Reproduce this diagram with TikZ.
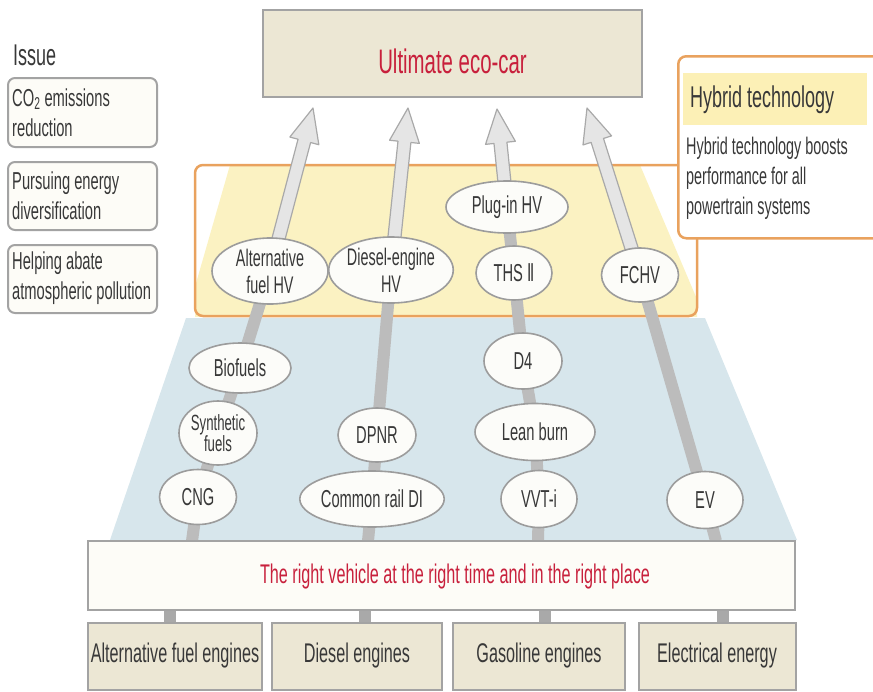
\documentclass[tikz,border=0pt]{standalone}
\usepackage{fontspec}
\setmainfont{Liberation Sans}[FakeStretch=0.6]
\newfontfamily\dvfont{DejaVu Sans}[FakeStretch=0.6]
\usetikzlibrary{shapes.geometric,calc}
\definecolor{blueback}{HTML}{D7E6EC}
\definecolor{yelback}{HTML}{FBF2C2}
\definecolor{orng}{HTML}{E9A25E}
\definecolor{barc}{HTML}{BCBCBC}
\definecolor{arrfill}{HTML}{E5E5E5}
\definecolor{arrline}{HTML}{A9A9A9}
\definecolor{ovalfill}{HTML}{FCFCF9}
\definecolor{ovalline}{HTML}{9C9C9C}
\definecolor{redtxt}{HTML}{C8203C}
\definecolor{txt}{HTML}{383838}
\definecolor{beige}{HTML}{ECE7D4}
\definecolor{boxline}{HTML}{A3A3A3}
\definecolor{whitebox}{HTML}{FDFCF7}
\definecolor{hyband}{HTML}{FCF0B6}
\pgfdeclarelayer{bg}
\pgfdeclarelayer{mid}
\pgfsetlayers{bg,mid,main}
\newcommand\fatarrow[2]{%
  \coordinate (hb) at ($(#2)!34pt!(#1.center)$);
  \filldraw[fill=arrfill, draw=arrline, line width=1.2pt, line join=round]
    ($(#1.center)!6.5pt!90:(#2)$) -- ($(hb)!6.5pt!90:(#2)$) -- ($(hb)!15pt!90:(#2)$) -- (#2)
    -- ($(hb)!15pt!-90:(#2)$) -- ($(hb)!6.5pt!-90:(#2)$) -- ($(#1.center)!6.5pt!-90:(#2)$) -- cycle;}
\tikzset{
  oval/.style={ellipse, draw=ovalline, fill=ovalfill, line width=1.6pt, inner sep=0pt,
    text=txt, font=\fontsize{24.5}{22}\selectfont, align=center},
  bar/.style={draw=barc, line width=12pt},
  beigebox/.style={rectangle, draw=boxline, fill=beige, line width=2pt, inner sep=0pt},
  issuebox/.style={rectangle, rounded corners=7pt, draw=boxline, fill=whitebox, line width=2pt,
    minimum width=149pt},
  issuetext/.style={anchor=west, align=left, inner sep=0pt, text=txt, font=\fontsize{24.5}{30}\selectfont},
  redlabel/.style={text=redtxt, inner sep=0pt},
  greylabel/.style={text=txt, inner sep=0pt}
}
\begin{document}
\begin{tikzpicture}[x=1pt,y=-1pt]
\useasboundingbox (0,0) rectangle (873,691);
% issues
\node[greylabel, anchor=west, font=\fontsize{30}{30}\selectfont] (issue) at (13,55) {Issue};
\node[issuebox, minimum height=69pt] (i1) at (82.5,112.5) {};
\node[issuebox, minimum height=68pt] (i2) at (82.5,196) {};
\node[issuebox, minimum height=68pt] (i3) at (82.5,279) {};
\node[issuetext] (i1t) at (12,112.5) {CO\textsubscript{2} emissions\\reduction};
\node[issuetext] (i2t) at (12,196) {Pursuing energy\\diversification};
\node[issuetext] (i3t) at (12,278) {Helping abate\\atmospheric pollution};
% top box
\node[beigebox, minimum width=379pt, minimum height=87pt] (eco) at (452.5,53.5) {};
\node[redlabel, font=\fontsize{34}{34}\selectfont] (ecot) at (452.5,61) {Ultimate eco-car};
% hybrid box
\node[rectangle, rounded corners=8pt, draw=orng, fill=white, line width=2.5pt, minimum width=213pt,
  minimum height=182pt, anchor=north west] (hy) at (677,55) {};
\node[rectangle, fill=hyband, minimum width=184pt, minimum height=52pt, anchor=north west] (hyb) at (683,73) {};
\node[greylabel, anchor=west, font=\fontsize{30}{30}\selectfont] (hyt) at (690,100) {Hybrid technology};
\node[greylabel, anchor=west, align=left, font=\fontsize{24}{30}\selectfont] (hyd) at (686,178)
  {Hybrid technology boosts\\performance for all\\powertrain systems};
% main box
\node[rectangle, draw=boxline, fill=whitebox, line width=2pt, minimum width=707pt, minimum height=69pt] (main) at (441.5,575.5) {};
\node[redlabel, font=\fontsize{27}{27}\selectfont] (maint) at (455,577) {The right vehicle at the right time and in the right place};
% bottom boxes
\node[beigebox, minimum width=174pt, minimum height=67pt, text=txt, font=\fontsize{27}{27}\selectfont] (b1) at (175,656) {Alternative fuel engines};
\node[beigebox, minimum width=170pt, minimum height=67pt, text=txt, font=\fontsize{27}{27}\selectfont] (b2) at (357,656) {Diesel engines};
\node[beigebox, minimum width=172pt, minimum height=67pt, text=txt, font=\fontsize{27}{27}\selectfont] (b3) at (539,656) {Gasoline engines};
\node[beigebox, minimum width=157pt, minimum height=67pt, text=txt, font=\fontsize{27}{27}\selectfont] (b4) at (717,656) {Electrical energy};
% ellipses
\node[oval, minimum width=77pt, minimum height=55pt] (cng) at (198,497) {CNG};
\node[oval, minimum width=78pt, minimum height=64pt, font=\fontsize{22}{21}\selectfont] (syn) at (218,433) {Synthetic\\fuels};
\node[oval, minimum width=102pt, minimum height=50pt] (bio) at (240,368) {Biofuels};
\node[oval, minimum width=116pt, minimum height=66pt, font=\fontsize{24}{27}\selectfont] (althv) at (270,271) {Alternative\\fuel HV};
\node[oval, minimum width=135pt, minimum height=56pt] (cr) at (372,499) {Common rail DI};
\node[oval, minimum width=78pt, minimum height=54pt] (dpnr) at (377,435) {DPNR};
\node[oval, minimum width=112pt, minimum height=66pt, font=\fontsize{24}{27}\selectfont] (dhv) at (391,270) {Diesel-engine\\HV};
\node[oval, minimum width=76pt, minimum height=57pt] (vvt) at (539,499) {VVT-i};
\node[oval, minimum width=120pt, minimum height=57pt] (lean) at (535,432) {Lean burn};
\node[oval, minimum width=78pt, minimum height=56pt] (d4) at (523,361) {D4};
\node[oval, minimum width=76pt, minimum height=54pt] (ths) at (514,273) {THS {\dvfont Ⅱ}};
\node[oval, minimum width=122pt, minimum height=52pt] (plug) at (507,207) {Plug-in HV};
\node[oval, minimum width=76pt, minimum height=57pt] (ev) at (705,500) {EV};
\node[oval, minimum width=77pt, minimum height=54pt] (fchv) at (640,275) {FCHV};
% free ends
\coordinate (m1) at (192,541);
\coordinate (m2) at (368,541);
\coordinate (m3) at (538,541);
\coordinate (m4) at (716,541);
\coordinate (n1) at (170,610);
\coordinate (n2) at (365,610);
\coordinate (n3) at (545,610);
\coordinate (n4) at (723,610);
\coordinate (tA) at (313,108);
\coordinate (tB) at (408,108);
\coordinate (tC) at (497,109);
\coordinate (tD) at (587,108);
\begin{pgfonlayer}{bg}
  \fill[blueback] (186,318) -- (705,318) -- (797,540) -- (110,540) -- cycle;
  \begin{scope}
    \clip (195,165) rectangle (697,316);
    \fill[yelback] (230,165) -- (640,165) -- (705,318) -- (186,318) -- cycle;
  \end{scope}
  \draw[orng, line width=2.5pt, rounded corners=8pt] (195,165) rectangle (697,316);
\end{pgfonlayer}
\begin{pgfonlayer}{mid}
  \draw[bar] (m1) -- (cng.center) -- (syn.center) -- (bio.center) -- (althv.center);
  \draw[bar] (m2) -- (cr.center) -- (dpnr.center) -- (dhv.center);
  \draw[bar] (m3) -- (vvt.center) -- (lean.center) -- (d4.center) -- (ths.center) -- (plug.center);
  \draw[bar] (m4) -- (ev.center) -- (fchv.center);
  \draw[bar, draw=barc!90!black] (n1) -- (n1 |- b1.north);
  \draw[bar, draw=barc!90!black] (n2) -- (n2 |- b2.north);
  \draw[bar, draw=barc!90!black] (n3) -- (n3 |- b3.north);
  \draw[bar, draw=barc!90!black] (n4) -- (n4 |- b4.north);
  \fatarrow{althv}{tA}
  \fatarrow{dhv}{tB}
  \fatarrow{plug}{tC}
  \fatarrow{fchv}{tD}
\end{pgfonlayer}
\end{tikzpicture}
\end{document}
